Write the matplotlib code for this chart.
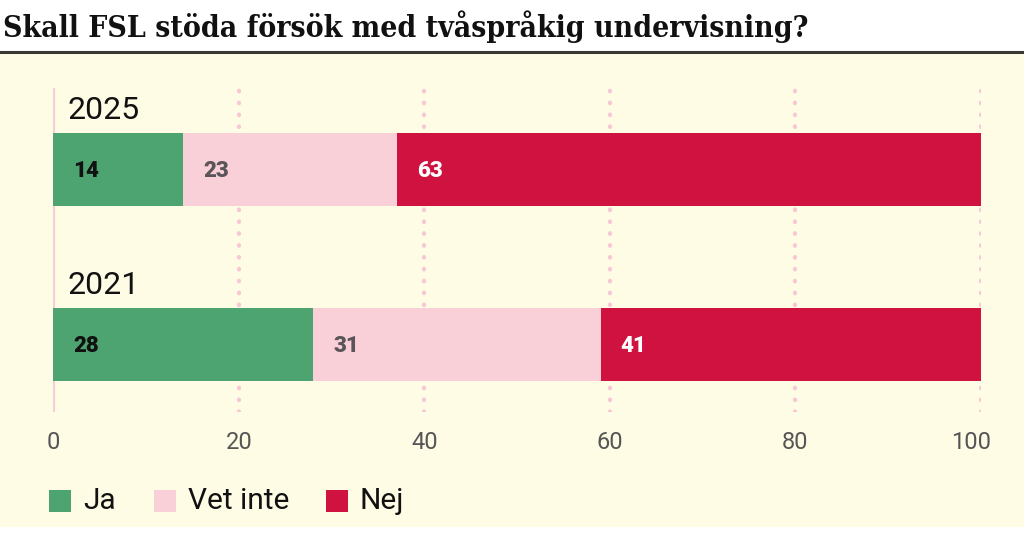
import matplotlib
matplotlib.use("Agg")
import matplotlib.pyplot as plt
from matplotlib.patches import Rectangle
from matplotlib.lines import Line2D
import matplotlib.transforms as mtransforms

years = ["2025", "2021"]
categories = ["Ja", "Vet inte", "Nej"]
ja = [14, 28]
vet_inte = [23, 31]
nej = [63, 41]
series = [ja, vet_inte, nej]
colors = ["#4ea471", "#f9d0d8", "#cf1240"]
label_colors = ["#111111", "#5a5558", "#ffffff"]
xticks = [0, 20, 40, 60, 80, 100]
title = "Skall FSL stöda försök med tvåspråkig undervisning?"

W, H = 1024, 538
fig = plt.figure(figsize=(W / 100, H / 100), dpi=100)
fig.patch.set_facecolor("white")

def fx(px):
    return px / W

def fy(py):
    return 1 - py / H

# cream background panel
fig.patches.append(Rectangle((0, fy(527)), 1, fy(53) - fy(527), transform=fig.transFigure,
                             facecolor="#fffce6", edgecolor="none", zorder=-5))
# header rule
fig.add_artist(Line2D([0, 1], [fy(51.5), fy(51.5)], transform=fig.transFigure,
                      color="#3a3a33", linewidth=2.2))
fig.text(fx(3), fy(27), title, fontsize=21.6, fontweight="bold", family="DejaVu Serif",
         fontstretch="condensed", va="center", ha="left", color="#111111")

ax = fig.add_axes([fx(53.3), fy(412), fx(981) - fx(53.3), fy(88) - fy(412)], zorder=2)
ax.set_facecolor("none")
ax.set_xlim(0, 100)
ypos = [1, 0]
ax.set_ylim(-0.386, 1.466)
bh = 0.417

for xv in xticks[1:]:
    ax.axvline(xv, color="#f8c6d5", linestyle=(0, (0.15, 2.7)), linewidth=3.0,
               dash_capstyle="round", zorder=1)
ax.axvline(0, color="#f9cdd8", linewidth=3, zorder=1)

for yi, yv in enumerate(ypos):
    left = 0
    for si, s in enumerate(series):
        v = s[yi]
        ax.barh(yv, v, left=left, height=bh, color=colors[si], edgecolor="none", zorder=2)
        ax.annotate(str(v), xy=(left, yv), xytext=(14.5, -1), textcoords="offset points",
                    ha="left", va="center", fontsize=16, fontweight="black", family="Roboto",
                    color=label_colors[si], zorder=3)
        left += v
    ax.annotate(years[yi], xy=(0, yv + bh / 2), xytext=(10, 6), textcoords="offset points",
                ha="left", va="bottom", fontsize=23, fontweight="normal", family="Roboto",
                color="#111111")

ax.set_xticks(xticks)
ax.set_xticklabels([str(t) for t in xticks], fontsize=17, family="Roboto", color="#555555")
ax.tick_params(axis="x", length=0, pad=14)
ax.set_yticks([])
for sp in ax.spines.values():
    sp.set_visible(False)
# last tick label sits slightly inward in the reference
lbl = ax.get_xticklabels()[-1]
lbl.set_transform(lbl.get_transform() + mtransforms.ScaledTranslation(-10 / 100, 0, fig.dpi_scale_trans))

# legend
leg_x = [49, 154, 326]
for i, cat in enumerate(categories):
    fig.patches.append(Rectangle((fx(leg_x[i]), fy(512)), fx(22), fy(490) - fy(512),
                                 transform=fig.transFigure, facecolor=colors[i], edgecolor="none"))
    fig.text(fx(leg_x[i] + 34), fy(501), cat, fontsize=21.5, family="Roboto", va="center",
             ha="left", color="#111111")

fig.savefig("out.png", dpi=100, facecolor=fig.get_facecolor())
